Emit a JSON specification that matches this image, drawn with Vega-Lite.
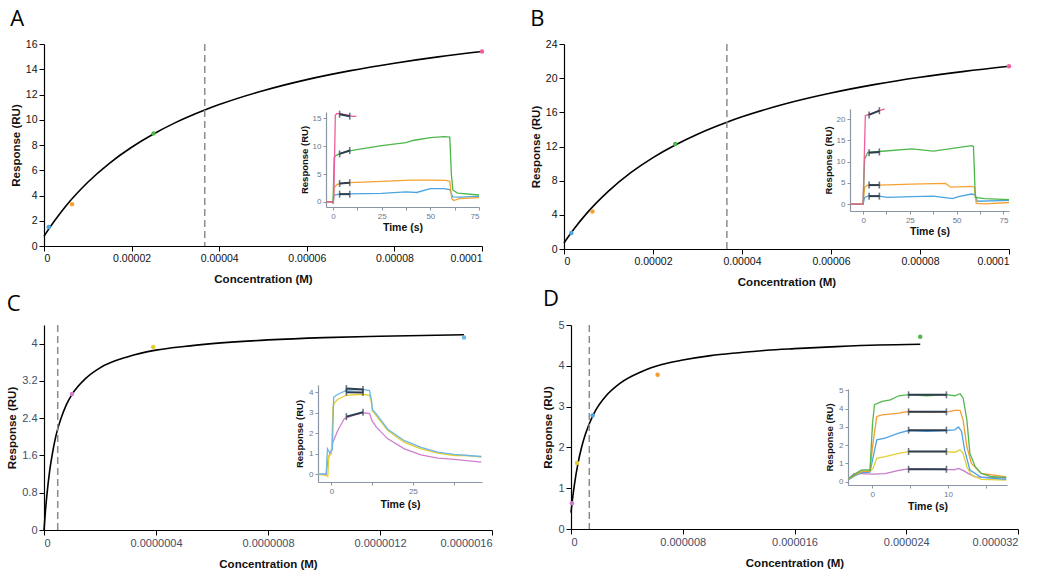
{
"$schema":"https://vega.github.io/schema/vega-lite/v6.json",
"background":"white",
"padding":{"left":6,"top":8,"right":4,"bottom":2},
"config":{"font":"Liberation Sans","view":{"stroke":null},
 "axis":{"grid":false,"domainColor":"#000","domainWidth":1.2,"tickColor":"#000","tickSize":5,"labelColor":"#111","labelFontSize":10.5,"titleFontSize":11.5,"titleFontWeight":"bold","titleColor":"#111"},
 "title":{"fontSize":22,"fontWeight":"normal","font":"Open Sans","anchor":"start","frame":"bounds","color":"#000","offset":8}},
"datasets":{
"curveA":[{"conc":0,"resp":0.77},{"conc":1e-6,"resp":1.30},{"conc":2.5e-6,"resp":2.04},{"conc":5e-6,"resp":3.17},{"conc":1e-5,"resp":5.05},{"conc":1.5e-5,"resp":6.57},{"conc":2e-5,"resp":7.82},{"conc":2.5e-5,"resp":8.87},{"conc":3e-5,"resp":9.77},{"conc":3.67e-5,"resp":10.77},{"conc":4e-5,"resp":11.20},{"conc":5e-5,"resp":12.30},{"conc":6e-5,"resp":13.18},{"conc":7e-5,"resp":13.89},{"conc":8e-5,"resp":14.48},{"conc":9e-5,"resp":14.98},{"conc":1e-4,"resp":15.40}],
"ptsA":[{"series":"A1","conc":1.07e-6,"resp":1.5},{"series":"A2","conc":6.4e-6,"resp":3.3},{"series":"A3","conc":2.5e-5,"resp":8.92},{"series":"A4","conc":1e-4,"resp":15.4}],
"kdA":[{"conc":3.67e-5}],
"curveB":[{"conc":0,"resp":0.71},{"conc":1e-6,"resp":1.46},{"conc":2.5e-6,"resp":2.52},{"conc":5e-6,"resp":4.11},{"conc":1e-5,"resp":6.77},{"conc":1.5e-5,"resp":8.93},{"conc":2e-5,"resp":10.70},{"conc":2.5e-5,"resp":12.18},{"conc":3e-5,"resp":13.44},{"conc":3.66e-5,"resp":14.84},{"conc":4e-5,"resp":15.47},{"conc":5e-5,"resp":17.03},{"conc":6e-5,"resp":18.26},{"conc":7e-5,"resp":19.27},{"conc":8e-5,"resp":20.10},{"conc":9e-5,"resp":20.80},{"conc":1e-4,"resp":21.40}],
"ptsB":[{"series":"B1","conc":1.65e-6,"resp":1.87},{"series":"B2","conc":6.4e-6,"resp":4.4},{"series":"B3","conc":2.5e-5,"resp":12.3},{"series":"B4","conc":1e-4,"resp":21.4}],
"kdB":[{"conc":3.66e-5}],
"curveC":[{"conc":0,"resp":0},{"conc":5e-9,"resp":0.40},{"conc":1e-8,"resp":0.73},{"conc":2e-8,"resp":1.26},{"conc":3e-8,"resp":1.64},{"conc":4e-8,"resp":1.95},{"conc":4.9e-8,"resp":2.17},{"conc":6e-8,"resp":2.38},{"conc":8e-8,"resp":2.69},{"conc":1e-7,"resp":2.91},{"conc":1.5e-7,"resp":3.26},{"conc":2e-7,"resp":3.48},{"conc":3e-7,"resp":3.72},{"conc":4e-7,"resp":3.86},{"conc":5e-7,"resp":3.94},{"conc":6e-7,"resp":4.00},{"conc":8e-7,"resp":4.08},{"conc":1e-6,"resp":4.13},{"conc":1.2e-6,"resp":4.16},{"conc":1.5e-6,"resp":4.19}],
"ptsC":[{"series":"C1","conc":1.0e-7,"resp":2.92},{"series":"C2","conc":3.9e-7,"resp":3.93},{"series":"C3","conc":1.5e-6,"resp":4.13}],
"kdC":[{"conc":4.9e-8}],
"curveD":[{"conc":0,"resp":0.40},{"conc":1e-7,"resp":0.71},{"conc":2.5e-7,"resp":1.10},{"conc":5e-7,"resp":1.61},{"conc":7.5e-7,"resp":1.99},{"conc":1e-6,"resp":2.29},{"conc":1.31e-6,"resp":2.58},{"conc":1.75e-6,"resp":2.90},{"conc":2.5e-6,"resp":3.26},{"conc":3.5e-6,"resp":3.57},{"conc":5e-6,"resp":3.85},{"conc":6.5e-6,"resp":4.03},{"conc":8e-6,"resp":4.14},{"conc":1e-5,"resp":4.25},{"conc":1.2e-5,"resp":4.32},{"conc":1.4e-5,"resp":4.38},{"conc":1.6e-5,"resp":4.42},{"conc":1.9e-5,"resp":4.47},{"conc":2.2e-5,"resp":4.51},{"conc":2.5e-5,"resp":4.53}],
"ptsD":[{"series":"D1","conc":7e-8,"resp":0.63},{"series":"D2","conc":4.3e-7,"resp":1.62},{"series":"D3","conc":1.55e-6,"resp":2.78},{"series":"D4","conc":6.2e-6,"resp":3.78},{"series":"D5","conc":2.5e-5,"resp":4.71}],
"kdD":[{"conc":1.31e-6}],
"trA":[
{"series":"A1","time":-3.6,"resp":0},{"series":"A1","time":-1,"resp":0.05},{"series":"A1","time":0,"resp":-0.15},{"series":"A1","time":0.5,"resp":1.25},{"series":"A1","time":3.4,"resp":1.4},{"series":"A1","time":8.6,"resp":1.45},{"series":"A1","time":25,"resp":1.55},{"series":"A1","time":37.5,"resp":1.8},{"series":"A1","time":43,"resp":1.7},{"series":"A1","time":50,"resp":2.4},{"series":"A1","time":57,"resp":2.4},{"series":"A1","time":60,"resp":2.2},{"series":"A1","time":61.5,"resp":0.9},{"series":"A1","time":65,"resp":0.85},{"series":"A1","time":75,"resp":1.0},
{"series":"A2","time":-3.6,"resp":0},{"series":"A2","time":-1,"resp":0.05},{"series":"A2","time":0,"resp":-0.15},{"series":"A2","time":0.6,"resp":2.6},{"series":"A2","time":2,"resp":3.1},{"series":"A2","time":3.4,"resp":3.3},{"series":"A2","time":8.6,"resp":3.45},{"series":"A2","time":25,"resp":3.7},{"series":"A2","time":40,"resp":3.9},{"series":"A2","time":50,"resp":3.9},{"series":"A2","time":58,"resp":3.85},{"series":"A2","time":60,"resp":3.7},{"series":"A2","time":61,"resp":0.6},{"series":"A2","time":62,"resp":0.25},{"series":"A2","time":65,"resp":0.6},{"series":"A2","time":75,"resp":0.77},
{"series":"A3","time":-3.6,"resp":0},{"series":"A3","time":-1,"resp":0.05},{"series":"A3","time":0,"resp":-0.15},{"series":"A3","time":0.6,"resp":8.0},{"series":"A3","time":1.5,"resp":8.3},{"series":"A3","time":3.4,"resp":8.65},{"series":"A3","time":8.6,"resp":9.15},{"series":"A3","time":13,"resp":9.4},{"series":"A3","time":25,"resp":10.1},{"series":"A3","time":37.5,"resp":10.6},{"series":"A3","time":41,"resp":11.0},{"series":"A3","time":50,"resp":11.5},{"series":"A3","time":57,"resp":11.7},{"series":"A3","time":60,"resp":11.6},{"series":"A3","time":60.8,"resp":5},{"series":"A3","time":61.6,"resp":2.1},{"series":"A3","time":64,"resp":1.6},{"series":"A3","time":75,"resp":1.25},
{"series":"A4","time":-3.6,"resp":0},{"series":"A4","time":-1,"resp":0.05},{"series":"A4","time":0,"resp":-0.15},{"series":"A4","time":0.4,"resp":0.5},{"series":"A4","time":1.2,"resp":15.5},{"series":"A4","time":2,"resp":15.85},{"series":"A4","time":5,"resp":15.7},{"series":"A4","time":8,"resp":15.5},{"series":"A4","time":10,"resp":15.3},{"series":"A4","time":12,"resp":15.3}],
"ebA":[{"t1":3.4,"r1":1.4,"t2":8.6,"r2":1.4},{"t1":3.4,"r1":3.3,"t2":8.6,"r2":3.45},{"t1":3.4,"r1":8.6,"t2":8.6,"r2":9.2},{"t1":3.4,"r1":15.7,"t2":8.6,"r2":15.35}],
"trB":[
{"series":"B1","time":-7,"resp":0},{"series":"B1","time":0,"resp":0},{"series":"B1","time":0.8,"resp":1.6},{"series":"B1","time":2.5,"resp":1.9},{"series":"B1","time":8.7,"resp":1.9},{"series":"B1","time":13,"resp":1.6},{"series":"B1","time":26,"resp":1.8},{"series":"B1","time":37.6,"resp":1.9},{"series":"B1","time":47.8,"resp":1.3},{"series":"B1","time":51,"resp":1.8},{"series":"B1","time":58,"resp":2.4},{"series":"B1","time":60,"resp":2.2},{"series":"B1","time":61,"resp":0.7},{"series":"B1","time":78,"resp":0.9},
{"series":"B2","time":-7,"resp":0},{"series":"B2","time":0,"resp":0},{"series":"B2","time":0.8,"resp":4.0},{"series":"B2","time":2.5,"resp":4.5},{"series":"B2","time":8.7,"resp":4.5},{"series":"B2","time":26,"resp":4.7},{"series":"B2","time":44,"resp":4.9},{"series":"B2","time":46.9,"resp":4.0},{"series":"B2","time":58,"resp":4.2},{"series":"B2","time":59.5,"resp":4.0},{"series":"B2","time":60.5,"resp":0.2},{"series":"B2","time":65,"resp":0.1},{"series":"B2","time":78,"resp":0.4},
{"series":"B3","time":-7,"resp":0},{"series":"B3","time":0,"resp":0},{"series":"B3","time":0.8,"resp":10.6},{"series":"B3","time":2.5,"resp":12.2},{"series":"B3","time":8.7,"resp":12.4},{"series":"B3","time":26,"resp":13.0},{"series":"B3","time":37.6,"resp":12.5},{"series":"B3","time":58,"resp":13.8},{"series":"B3","time":59,"resp":13.6},{"series":"B3","time":60,"resp":1.6},{"series":"B3","time":65,"resp":1.3},{"series":"B3","time":78,"resp":1.1},
{"series":"B4","time":-7,"resp":0},{"series":"B4","time":0,"resp":0},{"series":"B4","time":1.2,"resp":20.8},{"series":"B4","time":4.6,"resp":21.4},{"series":"B4","time":9.1,"resp":22.1},{"series":"B4","time":11.5,"resp":22.4}],
"ebB":[{"t1":3.2,"r1":1.9,"t2":8.7,"r2":1.9},{"t1":3.2,"r1":4.5,"t2":8.7,"r2":4.5},{"t1":3.2,"r1":12.1,"t2":8.7,"r2":12.3},{"t1":3.2,"r1":21.0,"t2":8.7,"r2":22.0}],
"trC":[
{"series":"C1","time":-4,"resp":0},{"series":"C1","time":-1.6,"resp":0},{"series":"C1","time":-1,"resp":0.78},{"series":"C1","time":0,"resp":1.18},{"series":"C1","time":0.3,"resp":1.5},{"series":"C1","time":2,"resp":2.15},{"series":"C1","time":4,"resp":2.72},{"series":"C1","time":7,"resp":2.88},{"series":"C1","time":9.7,"resp":3.0},{"series":"C1","time":11.7,"resp":2.96},{"series":"C1","time":12.5,"resp":2.6},{"series":"C1","time":13.8,"resp":2.3},{"series":"C1","time":17.3,"resp":1.73},{"series":"C1","time":22.4,"resp":1.24},{"series":"C1","time":27.5,"resp":0.95},{"series":"C1","time":32.6,"resp":0.79},{"series":"C1","time":37.7,"resp":0.73},{"series":"C1","time":46,"resp":0.6},
{"series":"C2","time":-4,"resp":0},{"series":"C2","time":-1.6,"resp":-0.05},{"series":"C2","time":-1.1,"resp":-0.1},{"series":"C2","time":-0.8,"resp":0.9},{"series":"C2","time":0,"resp":1.0},{"series":"C2","time":0.5,"resp":3.3},{"series":"C2","time":1,"resp":3.5},{"series":"C2","time":2,"resp":3.66},{"series":"C2","time":4.6,"resp":3.85},{"series":"C2","time":9.7,"resp":3.9},{"series":"C2","time":11.7,"resp":3.85},{"series":"C2","time":12.3,"resp":3.5},{"series":"C2","time":12.6,"resp":3.1},{"series":"C2","time":17.3,"resp":2.13},{"series":"C2","time":22.4,"resp":1.56},{"series":"C2","time":27.5,"resp":1.24},{"series":"C2","time":32.6,"resp":1.03},{"series":"C2","time":37.7,"resp":0.92},{"series":"C2","time":41.8,"resp":0.92},{"series":"C2","time":46,"resp":0.84},
{"series":"C3","time":-4,"resp":0.02},{"series":"C3","time":-1.6,"resp":0.02},{"series":"C3","time":-1.2,"resp":1.25},{"series":"C3","time":-0.5,"resp":1.05},{"series":"C3","time":0.3,"resp":1.2},{"series":"C3","time":0.7,"resp":3.76},{"series":"C3","time":2,"resp":3.9},{"series":"C3","time":4.6,"resp":4.09},{"series":"C3","time":9.7,"resp":4.14},{"series":"C3","time":11.7,"resp":4.08},{"series":"C3","time":12.3,"resp":3.6},{"series":"C3","time":12.6,"resp":3.15},{"series":"C3","time":13.8,"resp":2.93},{"series":"C3","time":17.3,"resp":2.2},{"series":"C3","time":22.4,"resp":1.64},{"series":"C3","time":27.5,"resp":1.32},{"series":"C3","time":32.6,"resp":1.08},{"series":"C3","time":37.7,"resp":0.97},{"series":"C3","time":41.8,"resp":0.92},{"series":"C3","time":46,"resp":0.87}],
"ebC":[{"t1":4.6,"r1":2.81,"t2":9.7,"r2":3.02},{"t1":4.6,"r1":4.0,"t2":9.7,"r2":3.98},{"t1":4.6,"r1":4.18,"t2":9.7,"r2":4.13}],
"trD":[
{"series":"D1","time":-3.1,"resp":0.17},{"series":"D1","time":-2.4,"resp":0.44},{"series":"D1","time":-1.4,"resp":0.44},{"series":"D1","time":0,"resp":0.42},{"series":"D1","time":1.7,"resp":0.44},{"series":"D1","time":3.5,"resp":0.62},{"series":"D1","time":4.8,"resp":0.7},{"series":"D1","time":7.2,"resp":0.7},{"series":"D1","time":9.8,"resp":0.66},{"series":"D1","time":10.9,"resp":0.66},{"series":"D1","time":11.4,"resp":0.73},{"series":"D1","time":12.0,"resp":0.62},{"series":"D1","time":12.7,"resp":0.44},{"series":"D1","time":13.6,"resp":0.26},{"series":"D1","time":17.7,"resp":0.2},
{"series":"D2","time":-3.1,"resp":0.12},{"series":"D2","time":-2.2,"resp":0.35},{"series":"D2","time":-1.4,"resp":0.55},{"series":"D2","time":-0.3,"resp":0.55},{"series":"D2","time":0.1,"resp":0.73},{"series":"D2","time":0.6,"resp":1.28},{"series":"D2","time":1.7,"resp":1.37},{"series":"D2","time":3.5,"resp":1.55},{"series":"D2","time":4.8,"resp":1.65},{"series":"D2","time":9.8,"resp":1.65},{"series":"D2","time":10.9,"resp":1.61},{"series":"D2","time":11.6,"resp":1.74},{"series":"D2","time":12.0,"resp":1.55},{"series":"D2","time":12.5,"resp":0.82},{"series":"D2","time":13.1,"resp":0.37},{"series":"D2","time":14.4,"resp":0.13},{"series":"D2","time":17.7,"resp":0.09},
{"series":"D3","time":-3.1,"resp":0.12},{"series":"D3","time":-2.2,"resp":0.35},{"series":"D3","time":-1.4,"resp":0.5},{"series":"D3","time":-0.3,"resp":0.52},{"series":"D3","time":0.04,"resp":1.19},{"series":"D3","time":0.6,"resp":2.29},{"series":"D3","time":1.7,"resp":2.38},{"series":"D3","time":3.5,"resp":2.66},{"series":"D3","time":4.8,"resp":2.8},{"series":"D3","time":7.2,"resp":2.75},{"series":"D3","time":9.8,"resp":2.8},{"series":"D3","time":10.9,"resp":2.84},{"series":"D3","time":11.4,"resp":2.99},{"series":"D3","time":11.8,"resp":2.75},{"series":"D3","time":12.2,"resp":1.74},{"series":"D3","time":12.9,"resp":0.64},{"series":"D3","time":14.4,"resp":0.24},{"series":"D3","time":17.7,"resp":0.13},
{"series":"D4","time":-3.1,"resp":0.15},{"series":"D4","time":-2.2,"resp":0.4},{"series":"D4","time":-1.4,"resp":0.55},{"series":"D4","time":-0.3,"resp":0.58},{"series":"D4","time":0.04,"resp":1.92},{"series":"D4","time":0.6,"resp":3.57},{"series":"D4","time":1.3,"resp":3.66},{"series":"D4","time":3.5,"resp":3.75},{"series":"D4","time":4.8,"resp":3.84},{"series":"D4","time":7.2,"resp":3.79},{"series":"D4","time":9.8,"resp":3.8},{"series":"D4","time":10.9,"resp":3.9},{"series":"D4","time":11.6,"resp":3.9},{"series":"D4","time":12.0,"resp":3.38},{"series":"D4","time":12.5,"resp":1.92},{"series":"D4","time":13.1,"resp":1.0},{"series":"D4","time":14.4,"resp":0.45},{"series":"D4","time":17.7,"resp":0.27},
{"series":"D5","time":-3.1,"resp":0.17},{"series":"D5","time":-2.2,"resp":0.44},{"series":"D5","time":-1.4,"resp":0.64},{"series":"D5","time":-0.3,"resp":0.64},{"series":"D5","time":0.04,"resp":3.2},{"series":"D5","time":0.3,"resp":4.21},{"series":"D5","time":1.3,"resp":4.39},{"series":"D5","time":2.4,"resp":4.48},{"series":"D5","time":3.5,"resp":4.7},{"series":"D5","time":4.8,"resp":4.76},{"series":"D5","time":7.2,"resp":4.7},{"series":"D5","time":9.8,"resp":4.76},{"series":"D5","time":10.9,"resp":4.7},{"series":"D5","time":11.6,"resp":4.81},{"series":"D5","time":12.0,"resp":4.58},{"series":"D5","time":12.5,"resp":3.38},{"series":"D5","time":12.9,"resp":1.55},{"series":"D5","time":13.6,"resp":0.82},{"series":"D5","time":14.4,"resp":0.45},{"series":"D5","time":15.8,"resp":0.27},{"series":"D5","time":17.7,"resp":0.24}],
"ebD":[{"t1":4.8,"r1":0.68,"t2":9.8,"r2":0.68},{"t1":4.8,"r1":1.65,"t2":9.8,"r2":1.65},{"t1":4.8,"r1":2.82,"t2":9.8,"r2":2.82},{"t1":4.8,"r1":3.82,"t2":9.8,"r2":3.82},{"t1":4.8,"r1":4.75,"t2":9.8,"r2":4.75}]
},
"spacing":0,
"vconcat":[
{"spacing":44,"hconcat":[
{"width":438,"height":202,"title":{"text":"A"},
 "layer":[
  {"layer":[
   {"data":{"name":"curveA"},"mark":{"type":"line","color":"#000","strokeWidth":1.6,"interpolate":"monotone"},
    "encoding":{"x":{"field":"conc","type":"quantitative","title":"Concentration (M)","scale":{"domain":[0,0.0001],"nice":false,"zero":false},"axis":{"values":[0,0.00002,0.00004,0.00006,0.00008,0.0001],"format":".5~f","titlePadding":10}},
     "y":{"field":"resp","type":"quantitative","title":"Response (RU)","scale":{"domain":[0,16],"nice":false},"axis":{"values":[0,2,4,6,8,10,12,14,16]}}}},
   {"data":{"name":"kdA"},"mark":{"type":"rule","color":"#8c8c8c","strokeDash":[7,4],"strokeWidth":1.5},
    "encoding":{"x":{"field":"conc","type":"quantitative","title":"Concentration (M)","scale":{"domain":[0,0.0001],"nice":false,"zero":false},"axis":{"values":[0,0.00002,0.00004,0.00006,0.00008,0.0001],"format":".5~f","titlePadding":10}}}},
   {"data":{"name":"ptsA"},"mark":{"type":"circle","size":20,"opacity":1},
    "encoding":{"x":{"field":"conc","type":"quantitative","title":"Concentration (M)","scale":{"domain":[0,0.0001],"nice":false,"zero":false},"axis":{"values":[0,0.00002,0.00004,0.00006,0.00008,0.0001],"format":".5~f","titlePadding":10}},
     "y":{"field":"resp","type":"quantitative","title":"Response (RU)","scale":{"domain":[0,16],"nice":false},"axis":{"values":[0,2,4,6,8,10,12,14,16]}},
     "color":{"field":"series","type":"nominal","legend":null,"scale":{"domain":["A1","A2","A3","A4","B1","B2","B3","B4","C1","C2","C3","D1","D2","D3","D4","D5"],"range":["#4aa5e2","#f6a133","#4db74a","#ef5f9c","#4aa5e2","#f6a133","#4db74a","#ef5f9c","#cf7fd0","#e5cf2b","#6db7e6","#c879cf","#e0cf35","#4ea3e2","#f59b34","#52b84e"]}}}}
  ]},
  {"layer":[
   {"data":{"name":"trA"},"mark":{"type":"line","strokeWidth":1.3},
    "encoding":{"x":{"field":"time","type":"quantitative","title":"Time (s)","scale":{"domain":[-3.6,75],"range":[282,435],"nice":false,"zero":false},"axis":{"orient":"bottom","offset":-39,"values":[0,12.5,25,37.5,50,62.5,75],"labelExpr":"datum.value % 25 === 0 ? datum.label : ''","domainColor":"#8a95a6","tickColor":"#8a95a6","labelColor":"#6b788c","labelFontSize":8,"tickSize":3,"labelPadding":2,"titleFontSize":10.5,"titlePadding":2}},
     "y":{"field":"resp","type":"quantitative","title":"Response (RU)","scale":{"domain":[-0.9,16.1],"range":[163,68],"nice":false,"zero":false},"axis":{"orient":"left","offset":-282,"values":[0,2.5,5,7.5,10,12.5,15],"labelExpr":"datum.value % 5 === 0 ? datum.label : ''","domainColor":"#8a95a6","tickColor":"#8a95a6","labelColor":"#6b788c","labelFontSize":8,"tickSize":3,"labelPadding":2,"titleFontSize":9.5,"titlePadding":3}},
     "color":{"field":"series","type":"nominal","legend":null,"scale":{"domain":["A1","A2","A3","A4","B1","B2","B3","B4","C1","C2","C3","D1","D2","D3","D4","D5"],"range":["#4aa5e2","#f6a133","#4db74a","#ef5f9c","#4aa5e2","#f6a133","#4db74a","#ef5f9c","#cf7fd0","#e5cf2b","#6db7e6","#c879cf","#e0cf35","#4ea3e2","#f59b34","#52b84e"]}}}},
   {"data":{"name":"ebA"},"mark":{"type":"rule","color":"#2e3d4f","strokeWidth":2},
    "encoding":{"x":{"field":"t1","type":"quantitative","title":"Time (s)"},"x2":{"field":"t2"},"y":{"field":"r1","type":"quantitative","title":"Response (RU)"},"y2":{"field":"r2"}}},
   {"data":{"name":"ebA"},"mark":{"type":"tick","orient":"vertical","color":"#2e3d4f","size":7,"thickness":1.6},
    "encoding":{"x":{"field":"t1","type":"quantitative","title":"Time (s)"},"y":{"field":"r1","type":"quantitative","title":"Response (RU)"}}},
   {"data":{"name":"ebA"},"mark":{"type":"tick","orient":"vertical","color":"#2e3d4f","size":7,"thickness":1.6},
    "encoding":{"x":{"field":"t2","type":"quantitative","title":"Time (s)"},"y":{"field":"r2","type":"quantitative","title":"Response (RU)"}}}
  ]}
 ],
 "resolve":{"scale":{"x":"independent","y":"independent"}}},
{"width":445,"height":205,"title":{"text":"B"},
 "layer":[
  {"layer":[
   {"data":{"name":"curveB"},"mark":{"type":"line","color":"#000","strokeWidth":1.6,"interpolate":"monotone"},
    "encoding":{"x":{"field":"conc","type":"quantitative","title":"Concentration (M)","scale":{"domain":[0,0.0001],"nice":false,"zero":false},"axis":{"values":[0,0.00002,0.00004,0.00006,0.00008,0.0001],"format":".5~f","titlePadding":10}},
     "y":{"field":"resp","type":"quantitative","title":"Response (RU)","scale":{"domain":[0,24],"nice":false},"axis":{"values":[0,4,8,12,16,20,24]}}}},
   {"data":{"name":"kdB"},"mark":{"type":"rule","color":"#8c8c8c","strokeDash":[7,4],"strokeWidth":1.5},
    "encoding":{"x":{"field":"conc","type":"quantitative","title":"Concentration (M)","scale":{"domain":[0,0.0001],"nice":false,"zero":false},"axis":{"values":[0,0.00002,0.00004,0.00006,0.00008,0.0001],"format":".5~f","titlePadding":10}}}},
   {"data":{"name":"ptsB"},"mark":{"type":"circle","size":20,"opacity":1},
    "encoding":{"x":{"field":"conc","type":"quantitative","title":"Concentration (M)","scale":{"domain":[0,0.0001],"nice":false,"zero":false},"axis":{"values":[0,0.00002,0.00004,0.00006,0.00008,0.0001],"format":".5~f","titlePadding":10}},
     "y":{"field":"resp","type":"quantitative","title":"Response (RU)","scale":{"domain":[0,24],"nice":false},"axis":{"values":[0,4,8,12,16,20,24]}},
     "color":{"field":"series","type":"nominal","legend":null,"scale":{"domain":["A1","A2","A3","A4","B1","B2","B3","B4","C1","C2","C3","D1","D2","D3","D4","D5"],"range":["#4aa5e2","#f6a133","#4db74a","#ef5f9c","#4aa5e2","#f6a133","#4db74a","#ef5f9c","#cf7fd0","#e5cf2b","#6db7e6","#c879cf","#e0cf35","#4ea3e2","#f59b34","#52b84e"]}}}}
  ]},
  {"layer":[
   {"data":{"name":"trB"},"mark":{"type":"line","strokeWidth":1.3},
    "encoding":{"x":{"field":"time","type":"quantitative","title":"Time (s)","scale":{"domain":[-7,78],"range":[286,445],"nice":false,"zero":false},"axis":{"orient":"bottom","offset":-38,"values":[0,12.5,25,37.5,50,62.5,75],"labelExpr":"datum.value % 25 === 0 ? datum.label : ''","domainColor":"#8a95a6","tickColor":"#8a95a6","labelColor":"#6b788c","labelFontSize":8,"tickSize":3,"labelPadding":2,"titleFontSize":10.5,"titlePadding":2}},
     "y":{"field":"resp","type":"quantitative","title":"Response (RU)","scale":{"domain":[-1.6,22.4],"range":[167,65],"nice":false,"zero":false},"axis":{"orient":"left","offset":-286,"values":[0,2.5,5,7.5,10,12.5,15,17.5,20],"labelExpr":"datum.value % 5 === 0 ? datum.label : ''","domainColor":"#8a95a6","tickColor":"#8a95a6","labelColor":"#6b788c","labelFontSize":8,"tickSize":3,"labelPadding":2,"titleFontSize":9.5,"titlePadding":3}},
     "color":{"field":"series","type":"nominal","legend":null,"scale":{"domain":["A1","A2","A3","A4","B1","B2","B3","B4","C1","C2","C3","D1","D2","D3","D4","D5"],"range":["#4aa5e2","#f6a133","#4db74a","#ef5f9c","#4aa5e2","#f6a133","#4db74a","#ef5f9c","#cf7fd0","#e5cf2b","#6db7e6","#c879cf","#e0cf35","#4ea3e2","#f59b34","#52b84e"]}}}},
   {"data":{"name":"ebB"},"mark":{"type":"rule","color":"#2e3d4f","strokeWidth":2},
    "encoding":{"x":{"field":"t1","type":"quantitative","title":"Time (s)"},"x2":{"field":"t2"},"y":{"field":"r1","type":"quantitative","title":"Response (RU)"},"y2":{"field":"r2"}}},
   {"data":{"name":"ebB"},"mark":{"type":"tick","orient":"vertical","color":"#2e3d4f","size":7,"thickness":1.6},
    "encoding":{"x":{"field":"t1","type":"quantitative","title":"Time (s)"},"y":{"field":"r1","type":"quantitative","title":"Response (RU)"}}},
   {"data":{"name":"ebB"},"mark":{"type":"tick","orient":"vertical","color":"#2e3d4f","size":7,"thickness":1.6},
    "encoding":{"x":{"field":"t2","type":"quantitative","title":"Time (s)"},"y":{"field":"r2","type":"quantitative","title":"Response (RU)"}}}
  ]}
 ],
 "resolve":{"scale":{"x":"independent","y":"independent"}}}
]},
{"spacing":49,"hconcat":[
{"width":448,"height":205,"title":{"text":"C"},
 "layer":[
  {"layer":[
   {"data":{"name":"curveC"},"mark":{"type":"line","color":"#000","strokeWidth":1.6,"interpolate":"monotone"},
    "encoding":{"x":{"field":"conc","type":"quantitative","title":"Concentration (M)","scale":{"domain":[0,0.0000016],"nice":false,"zero":false},"axis":{"values":[0,0.0000004,0.0000008,0.0000012,0.0000016],"format":".7~f","titlePadding":10,"labelColor":"#3f4d66","labelFontSize":11}},
     "y":{"field":"resp","type":"quantitative","title":"Response (RU)","scale":{"domain":[0,4.4],"nice":false},"axis":{"values":[0,0.8,1.6,2.4,3.2,4],"format":".1~f","labelColor":"#3f4d66","labelFontSize":11}}}},
   {"data":{"name":"kdC"},"mark":{"type":"rule","color":"#8c8c8c","strokeDash":[7,4],"strokeWidth":1.5},
    "encoding":{"x":{"field":"conc","type":"quantitative","title":"Concentration (M)","scale":{"domain":[0,0.0000016],"nice":false,"zero":false},"axis":{"values":[0,0.0000004,0.0000008,0.0000012,0.0000016],"format":".7~f","titlePadding":10,"labelColor":"#3f4d66","labelFontSize":11}}}},
   {"data":{"name":"ptsC"},"mark":{"type":"circle","size":20,"opacity":1},
    "encoding":{"x":{"field":"conc","type":"quantitative","title":"Concentration (M)","scale":{"domain":[0,0.0000016],"nice":false,"zero":false},"axis":{"values":[0,0.0000004,0.0000008,0.0000012,0.0000016],"format":".7~f","titlePadding":10,"labelColor":"#3f4d66","labelFontSize":11}},
     "y":{"field":"resp","type":"quantitative","title":"Response (RU)","scale":{"domain":[0,4.4],"nice":false},"axis":{"values":[0,0.8,1.6,2.4,3.2,4],"format":".1~f","labelColor":"#3f4d66","labelFontSize":11}},
     "color":{"field":"series","type":"nominal","legend":null,"scale":{"domain":["A1","A2","A3","A4","B1","B2","B3","B4","C1","C2","C3","D1","D2","D3","D4","D5"],"range":["#4aa5e2","#f6a133","#4db74a","#ef5f9c","#4aa5e2","#f6a133","#4db74a","#ef5f9c","#cf7fd0","#e5cf2b","#6db7e6","#c879cf","#e0cf35","#4ea3e2","#f59b34","#52b84e"]}}}}
  ]},
  {"layer":[
   {"data":{"name":"trC"},"mark":{"type":"line","strokeWidth":1.3},
    "encoding":{"x":{"field":"time","type":"quantitative","title":"Time (s)","scale":{"domain":[-4.1,46.2],"range":[274,438],"nice":false,"zero":false},"axis":{"orient":"bottom","offset":-48,"values":[0,12.5,25,37.5],"labelExpr":"datum.value % 25 === 0 ? datum.label : ''","domainColor":"#8a95a6","tickColor":"#8a95a6","labelColor":"#6b788c","labelFontSize":8,"tickSize":3,"labelPadding":2,"titleFontSize":10.5,"titlePadding":4}},
     "y":{"field":"resp","type":"quantitative","title":"Response (RU)","scale":{"domain":[-0.37,4.35],"range":[157,60],"nice":false,"zero":false},"axis":{"orient":"left","offset":-274,"values":[0,0.5,1,1.5,2,2.5,3,3.5,4],"labelExpr":"datum.value % 1 === 0 ? datum.label : ''","domainColor":"#8a95a6","tickColor":"#8a95a6","labelColor":"#6b788c","labelFontSize":8,"tickSize":3,"labelPadding":2,"titleFontSize":9.5,"titlePadding":4}},
     "color":{"field":"series","type":"nominal","legend":null,"scale":{"domain":["A1","A2","A3","A4","B1","B2","B3","B4","C1","C2","C3","D1","D2","D3","D4","D5"],"range":["#4aa5e2","#f6a133","#4db74a","#ef5f9c","#4aa5e2","#f6a133","#4db74a","#ef5f9c","#cf7fd0","#e5cf2b","#6db7e6","#c879cf","#e0cf35","#4ea3e2","#f59b34","#52b84e"]}}}},
   {"data":{"name":"ebC"},"mark":{"type":"rule","color":"#2e3d4f","strokeWidth":2},
    "encoding":{"x":{"field":"t1","type":"quantitative","title":"Time (s)"},"x2":{"field":"t2"},"y":{"field":"r1","type":"quantitative","title":"Response (RU)"},"y2":{"field":"r2"}}},
   {"data":{"name":"ebC"},"mark":{"type":"tick","orient":"vertical","color":"#2e3d4f","size":7,"thickness":1.6},
    "encoding":{"x":{"field":"t1","type":"quantitative","title":"Time (s)"},"y":{"field":"r1","type":"quantitative","title":"Response (RU)"}}},
   {"data":{"name":"ebC"},"mark":{"type":"tick","orient":"vertical","color":"#2e3d4f","size":7,"thickness":1.6},
    "encoding":{"x":{"field":"t2","type":"quantitative","title":"Time (s)"},"y":{"field":"r2","type":"quantitative","title":"Response (RU)"}}}
  ]}
 ],
 "resolve":{"scale":{"x":"independent","y":"independent"}}},
{"width":447,"height":204,"title":{"text":"D"},
 "layer":[
  {"layer":[
   {"data":{"name":"curveD"},"mark":{"type":"line","color":"#000","strokeWidth":1.6,"interpolate":"monotone"},
    "encoding":{"x":{"field":"conc","type":"quantitative","title":"Concentration (M)","scale":{"domain":[0,0.000032],"nice":false,"zero":false},"axis":{"values":[0,0.000008,0.000016,0.000024,0.000032],"format":".6~f","titlePadding":10,"labelColor":"#3f4d66","labelFontSize":11}},
     "y":{"field":"resp","type":"quantitative","title":"Response (RU)","scale":{"domain":[0,5],"nice":false},"axis":{"values":[0,1,2,3,4,5],"labelColor":"#3f4d66","labelFontSize":11}}}},
   {"data":{"name":"kdD"},"mark":{"type":"rule","color":"#8c8c8c","strokeDash":[7,4],"strokeWidth":1.5},
    "encoding":{"x":{"field":"conc","type":"quantitative","title":"Concentration (M)","scale":{"domain":[0,0.000032],"nice":false,"zero":false},"axis":{"values":[0,0.000008,0.000016,0.000024,0.000032],"format":".6~f","titlePadding":10,"labelColor":"#3f4d66","labelFontSize":11}}}},
   {"data":{"name":"ptsD"},"mark":{"type":"circle","size":20,"opacity":1},
    "encoding":{"x":{"field":"conc","type":"quantitative","title":"Concentration (M)","scale":{"domain":[0,0.000032],"nice":false,"zero":false},"axis":{"values":[0,0.000008,0.000016,0.000024,0.000032],"format":".6~f","titlePadding":10,"labelColor":"#3f4d66","labelFontSize":11}},
     "y":{"field":"resp","type":"quantitative","title":"Response (RU)","scale":{"domain":[0,5],"nice":false},"axis":{"values":[0,1,2,3,4,5],"labelColor":"#3f4d66","labelFontSize":11}},
     "color":{"field":"series","type":"nominal","legend":null,"scale":{"domain":["A1","A2","A3","A4","B1","B2","B3","B4","C1","C2","C3","D1","D2","D3","D4","D5"],"range":["#4aa5e2","#f6a133","#4db74a","#ef5f9c","#4aa5e2","#f6a133","#4db74a","#ef5f9c","#cf7fd0","#e5cf2b","#6db7e6","#c879cf","#e0cf35","#4ea3e2","#f59b34","#52b84e"]}}}}
  ]},
  {"layer":[
   {"data":{"name":"trD"},"mark":{"type":"line","strokeWidth":1.3},
    "encoding":{"x":{"field":"time","type":"quantitative","title":"Time (s)","scale":{"domain":[-3.2,17.8],"range":[277,436],"nice":false,"zero":false},"axis":{"orient":"bottom","offset":-44,"values":[0,5,10,15],"labelExpr":"datum.value % 10 === 0 ? datum.label : ''","domainColor":"#8a95a6","tickColor":"#8a95a6","labelColor":"#6b788c","labelFontSize":8,"tickSize":3,"labelPadding":2,"titleFontSize":10.5,"titlePadding":3}},
     "y":{"field":"resp","type":"quantitative","title":"Response (RU)","scale":{"domain":[-0.18,5.07],"range":[160,64],"nice":false,"zero":false},"axis":{"orient":"left","offset":-277,"values":[0,0.5,1,1.5,2,2.5,3,3.5,4,4.5,5],"labelExpr":"datum.value % 1 === 0 ? datum.label : ''","domainColor":"#8a95a6","tickColor":"#8a95a6","labelColor":"#6b788c","labelFontSize":8,"tickSize":3,"labelPadding":2,"titleFontSize":9.5,"titlePadding":4}},
     "color":{"field":"series","type":"nominal","legend":null,"scale":{"domain":["A1","A2","A3","A4","B1","B2","B3","B4","C1","C2","C3","D1","D2","D3","D4","D5"],"range":["#4aa5e2","#f6a133","#4db74a","#ef5f9c","#4aa5e2","#f6a133","#4db74a","#ef5f9c","#cf7fd0","#e5cf2b","#6db7e6","#c879cf","#e0cf35","#4ea3e2","#f59b34","#52b84e"]}}}},
   {"data":{"name":"ebD"},"mark":{"type":"rule","color":"#2e3d4f","strokeWidth":2},
    "encoding":{"x":{"field":"t1","type":"quantitative","title":"Time (s)"},"x2":{"field":"t2"},"y":{"field":"r1","type":"quantitative","title":"Response (RU)"},"y2":{"field":"r2"}}},
   {"data":{"name":"ebD"},"mark":{"type":"tick","orient":"vertical","color":"#2e3d4f","size":7,"thickness":1.6},
    "encoding":{"x":{"field":"t1","type":"quantitative","title":"Time (s)"},"y":{"field":"r1","type":"quantitative","title":"Response (RU)"}}},
   {"data":{"name":"ebD"},"mark":{"type":"tick","orient":"vertical","color":"#2e3d4f","size":7,"thickness":1.6},
    "encoding":{"x":{"field":"t2","type":"quantitative","title":"Time (s)"},"y":{"field":"r2","type":"quantitative","title":"Response (RU)"}}}
  ]}
 ],
 "resolve":{"scale":{"x":"independent","y":"independent"}}}
]}
]
}
